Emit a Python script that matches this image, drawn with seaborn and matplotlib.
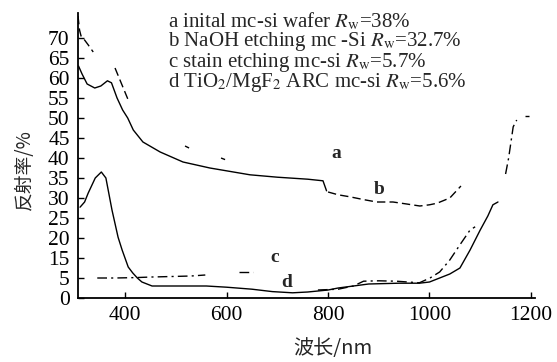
import numpy as np
import pandas as pd
import seaborn as sns
import matplotlib
matplotlib.use("Agg")
import matplotlib.pyplot as plt

nan = np.nan

# a: initial mc-si wafer (solid)
wl_a = [308, 315, 325, 340, 352, 365, 373, 384, 395, 405, 416, 435, 469, 514, 567, 646, 700, 760, 790, 797]
R_a = [63, 61, 58.5, 57.5, 58, 59.3, 58.8, 55, 52, 50, 47, 44, 41.5, 39, 37.5, 35.8, 35.2, 34.7, 34.3, 31.8]

# b: NaOH etching mc-Si (dashed, partly lost in the scan)
wl_b = [307, 310, 313, 317, 327, 337, nan, 380, 393, 406, nan, 518, 526, nan, 589, 597, nan,
        800, 820, 843, 870, 896, 928, 955, 981, 1000, 1015, 1040, 1062]
R_b = [75.5, 72, 70.5, 70, 68.3, 66.5, nan, 62.5, 58.5, 54.5, nan, 43, 42.5, nan, 40, 39.6, nan,
       31.5, 30.8, 30.3, 29.6, 29, 29, 28.5, 28, 28.3, 28.7, 30, 33]

# c: stain etching mc-si (dash-dot)
wl_c = [345, 380, 420, 453, 500, 530, 558, nan, 625, 652, nan, 780, 820, 850, 870, 900, 935, 980,
        1001, 1020, 1040, 1060, 1080, 1090, nan, 1150, 1156, 1165, 1172, nan, 1188, 1196]
R_c = [5, 5, 5.2, 5.5, 5.8, 6, 6.5, nan, 8, 8, nan, 2, 2.2, 3, 4.2, 4.3, 4.2, 3.8,
       5, 8, 14, 18.3, 22, 22.8, nan, 36, 40, 47.8, 49.5, nan, 50.5, 50.5]

# d: TiO2/MgF2 ARC mc-si (solid)
wl_d = [311, 320, 327, 341, 353, 362, 374, 386, 394, 406, 415, 424, 433, 453, 500, 560, 600, 650,
        690, 730, 760, 800, 820, 850, 880, 940, 980, 1000, 1020, 1040, 1060, 1080, 1100, 1115, 1125, 1135]
R_d = [27.7, 29, 31.2, 35, 36.5, 35, 27, 20.2, 17, 10.5, 7.5, 5, 4, 3, 3, 3, 2.7, 2.2,
       1.6, 1.3, 1.5, 2, 2.5, 3, 3.5, 3.7, 3.7, 4, 5, 7, 10, 17, 22, 25.5, 28.3, 29]

legend_lines = [
    r"a inital mc-si wafer $R_{\mathrm{w}}$=38%",
    r"b NaOH etching mc -Si $R_{\mathrm{w}}$=32.7%",
    r"c stain etching mc-si $R_{\mathrm{w}}$=5.7%",
    r"d TiO$_2$/MgF$_2$ ARC mc-si $R_{\mathrm{w}}$=5.6%",
]
y_ticks = [0, 5, 15, 20, 25, 30, 35, 40, 45, 50, 55, 60, 65, 70]
x_ticks = [400, 600, 800, 1000, 1200]

# the printed y axis has no "10": 0..5 and 15..70 sit on an even spacing
Y_LBL = [-100, 0, 5, 15, 200]
Y_POS = [-100, 0, 5, 10, 195]


def fwd(v):
    return np.interp(v, Y_LBL, Y_POS)


def inv(p):
    return np.interp(p, Y_POS, Y_LBL)


def draw(ax, wl, R, ls):
    df = pd.DataFrame({"wl": wl, "R": R})
    df["seg"] = df["R"].isna().cumsum()
    df = df.dropna()
    sns.lineplot(data=df, x="wl", y="R", units="seg", estimator=None,
                 color="black", lw=1.0, linestyle=ls, ax=ax)


sns.set_theme(style="ticks")
plt.rcParams["font.family"] = ["Liberation Serif", "DejaVu Serif"]
plt.rcParams["mathtext.fontset"] = "stix"

fig = plt.figure(figsize=(5.57, 3.62), dpi=100)
ax = fig.add_axes([78 / 557, 1 - 298 / 362, 457 / 557, 285 / 362])
ax.set_yscale("function", functions=(fwd, inv))

draw(ax, wl_a, R_a, "-")
draw(ax, wl_b, R_b, (0, (6, 3)))
draw(ax, wl_c, R_c, (0, (7, 3, 1.5, 3)))
draw(ax, wl_d, R_d, "-")

ax.set_xlim(307, 1208)
ax.set_ylim(0, 76.25)
ax.set_xticks(x_ticks)
ax.set_yticks(y_ticks)
ax.set_yticklabels([str(t) for t in y_ticks])
ax.minorticks_off()
ax.tick_params(direction="in", length=4, width=1, pad=6, labelsize=15.5, colors="black")

for s in ["top", "right"]:
    ax.spines[s].set_visible(False)
for s in ["left", "bottom"]:
    ax.spines[s].set_linewidth(1.3)
    ax.spines[s].set_color("black")

ax.set_ylabel("反射率/%", family=["Noto Sans CJK SC", "DejaVu Sans"], fontsize=13.5)
ax.yaxis.set_label_coords(-0.095, 0.45)
ax.set_xlabel("波长/nm", family=["Noto Sans CJK SC", "DejaVu Sans"], fontsize=14.5)
ax.xaxis.set_label_coords(0.558, -0.14)

# curve labels
for t, x, y in [("a", 816, 41), ("b", 900, 32.2), ("c", 695, 15), ("d", 719, 3.8)]:
    ax.text(x, y, t, fontsize=14, fontweight="bold", ha="center", va="center")

# description block drawn as one multi-line text
fig.text(168 / 557, 1 - 11 / 362, "\n".join(legend_lines), fontsize=15,
         va="top", ha="left", linespacing=0.85)

fig.savefig("out.png", dpi=100)
